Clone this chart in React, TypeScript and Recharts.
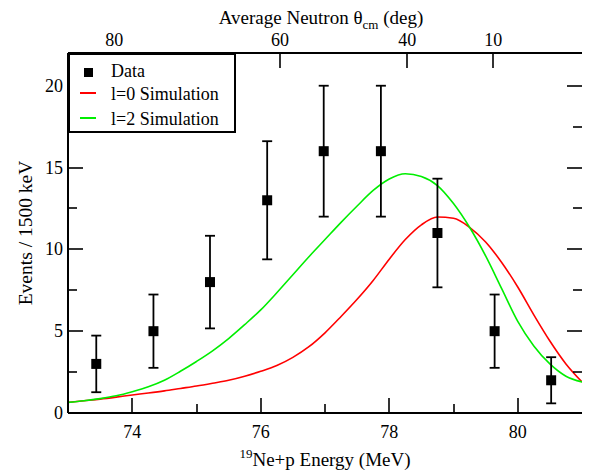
import {
  ComposedChart,
  ErrorBar,
  Legend,
  Line,
  ReferenceDot,
  Scatter,
  XAxis,
  YAxis,
} from "recharts";

// measured points (counts per 1500 keV bin), errors are sqrt(N)
const DATA_X = [73.44, 74.33, 75.21, 76.1, 76.98, 77.87, 78.75, 79.64, 80.52];
const DATA_Y = [3, 5, 8, 13, 16, 16, 11, 5, 2];
const DATA_ERR = [1.73, 2.24, 2.83, 3.61, 4, 4, 3.32, 2.24, 1.41];

// simulation curves
const SIM_X = [
  73, 73.25, 73.5, 73.75, 74, 74.25, 74.5, 74.75, 75, 75.25, 75.5, 75.75, 76,
  76.25, 76.5, 76.75, 77, 77.25, 77.5, 77.75, 78, 78.25, 78.5, 78.75, 79,
  79.25, 79.5, 79.75, 80, 80.25, 80.5, 80.75, 81,
];
const L0_Y = [
  0.65, 0.75, 0.85, 0.97, 1.1, 1.22, 1.35, 1.5, 1.65, 1.82, 2.0, 2.25, 2.55,
  2.9, 3.4, 4.05, 4.9, 5.9, 6.95, 8.1, 9.4, 10.6, 11.5, 11.98, 11.9, 11.35, 10.45,
  9.2, 7.7, 6.0, 4.4, 3.0, 1.9,
];
const L2_Y = [
  0.65, 0.75, 0.88, 1.05, 1.3, 1.6, 2.0, 2.55, 3.15, 3.8, 4.55, 5.4, 6.3, 7.35,
  8.45, 9.55, 10.6, 11.65, 12.65, 13.6, 14.3, 14.62, 14.45, 13.9, 12.8, 11.35, 9.6,
  7.6, 5.6, 4.1, 3.0, 2.25, 1.9,
];

const X_MIN = 73;
const X_MAX = 81;
const Y_MIN = 0;
const Y_MAX = 22;
const X_TICKS = [74, 75, 76, 77, 78, 79, 80];
const X_MAJOR = [74, 76, 78, 80];
const Y_TICKS = [2.5, 5, 7.5, 10, 12.5, 15, 17.5, 20];
const Y_LABELS = [0, 5, 10, 15, 20];
const Y_MAJOR = [0, 5, 10, 15, 20];
const TOP_TICKS = [73.72, 76.3, 78.28, 79.62];
const TOP_LABELS = ["80", "60", "40", "10"];

const FONT = "'Liberation Serif', 'DejaVu Serif', serif";
const RED = "#ff0000";
const GREEN = "#00ee00";

const points = DATA_X.map((x, i) => ({ x, y: DATA_Y[i], err: DATA_ERR[i] }));
const l0 = SIM_X.map((x, i) => ({ x, y: L0_Y[i] }));
const l2 = SIM_X.map((x, i) => ({ x, y: L2_Y[i] }));

const bottomLabel = (props: any) =>
  X_MAJOR.includes(props.payload.value) ? (
    <text x={props.x} y={Number(props.y) + 25} textAnchor="middle" fontSize={18} fontFamily={FONT} fill="#000">
      {props.payload.value}
    </text>
  ) : (
    <g />
  );

const topLabel = (props: any) => (
  <text x={props.x} y={Number(props.y) - 7} textAnchor="middle" fontSize={18} fontFamily={FONT} fill="#000">
    {TOP_LABELS[props.index]}
  </text>
);

const leftLabel = (props: any) => (
  <text x={Number(props.x) - 5} y={Number(props.y) + 6} textAnchor="end" fontSize={18} fontFamily={FONT} fill="#000">
    {props.payload.value}
  </text>
);

// inward tick marks, anchored on the frame by reference dots
const tickMark = (dx: number, dy: number) => (p: any) => {
  const x = Math.round(p.cx);
  const y = Math.round(p.cy);
  return <path d={`M${x},${y}L${x + dx},${y + dy}`} stroke="#000" strokeWidth={1.6} fill="none" />;
};

const LegendBox = () => (
  <div
    style={{
      width: 168,
      height: 80,
      boxSizing: "border-box",
      border: "2px solid #000",
      background: "#fff",
      fontFamily: FONT,
      fontSize: 18,
      position: "relative",
    }}
  >
    <div style={{ position: "absolute", left: 14, top: 13, width: 9, height: 9, background: "#000" }} />
    <div style={{ position: "absolute", left: 10, top: 37, width: 16, height: 1.5, background: RED }} />
    <div style={{ position: "absolute", left: 10, top: 62, width: 16, height: 1.5, background: GREEN }} />
    <div style={{ position: "absolute", left: 41, top: 5, lineHeight: "22px" }}>Data</div>
    <div style={{ position: "absolute", left: 41, top: 28, lineHeight: "22px", whiteSpace: "nowrap" }}>
      l=0 Simulation
    </div>
    <div style={{ position: "absolute", left: 41, top: 53, lineHeight: "22px", whiteSpace: "nowrap" }}>
      l=2 Simulation
    </div>
  </div>
);

export default function App() {
  return (
    <div style={{ position: "absolute", left: 0, top: 0 }}>
      <ComposedChart width={590} height={473} margin={{ top: 0, right: 8, bottom: 0, left: 0 }}>
        <XAxis
          xAxisId="bottom"
          dataKey="x"
          type="number"
          domain={[X_MIN, X_MAX]}
          allowDataOverflow
          ticks={X_TICKS}
          interval={0}
          height={60}
          tickSize={0}
          tickMargin={0}
          tickLine={false}
          tick={bottomLabel}
          axisLine={{ stroke: "#000", strokeWidth: 2 }}
          label={{
            content: (p: any) => {
              const vb = p.viewBox;
              return (
                <text
                  x={vb.x + vb.width / 2}
                  y={vb.y + 53}
                  textAnchor="middle"
                  fontSize={19}
                  fontFamily={FONT}
                  fill="#000"
                >
                  <tspan fontSize={13} dy={-8}>19</tspan>
                  <tspan dy={8}>Ne+p Energy (MeV)</tspan>
                </text>
              );
            },
          }}
        />
        <XAxis
          xAxisId="top"
          dataKey="x"
          orientation="top"
          type="number"
          domain={[X_MIN, X_MAX]}
          allowDataOverflow
          ticks={TOP_TICKS}
          interval={0}
          height={53}
          tickSize={0}
          tickMargin={0}
          tickLine={false}
          tick={topLabel}
          axisLine={{ stroke: "#000", strokeWidth: 2 }}
          label={{
            content: (p: any) => {
              const vb = p.viewBox;
              return (
                <text
                  x={vb.x + vb.width / 2 - 4}
                  y={24}
                  textAnchor="middle"
                  fontSize={19}
                  fontFamily={FONT}
                  fill="#000"
                >
                  Average Neutron θ
                  <tspan fontSize={13} dy={5}>cm</tspan>
                  <tspan dy={-5}> (deg)</tspan>
                </text>
              );
            },
          }}
        />
        <YAxis
          yAxisId="left"
          type="number"
          domain={[Y_MIN, Y_MAX]}
          allowDataOverflow
          ticks={Y_LABELS}
          interval={0}
          width={68}
          tickSize={0}
          tickMargin={0}
          tickLine={false}
          tick={leftLabel}
          axisLine={{ stroke: "#000", strokeWidth: 2 }}
          label={{
            content: (p: any) => {
              const vb = p.viewBox;
              const cx = vb.x + 25;
              const cy = vb.y + vb.height / 2;
              return (
                <text
                  x={cx}
                  y={cy}
                  transform={`rotate(-90 ${cx} ${cy})`}
                  textAnchor="middle"
                  dominantBaseline="central"
                  fontSize={19.5}
                  fontFamily={FONT}
                  fill="#000"
                >
                  Events / 1500 keV
                </text>
              );
            },
          }}
        />
        <YAxis
          yAxisId="right"
          orientation="right"
          type="number"
          domain={[Y_MIN, Y_MAX]}
          allowDataOverflow
          ticks={Y_LABELS}
          width={0}
          tick={false}
          tickLine={false}
          axisLine={{ stroke: "#000", strokeWidth: 2 }}
        />
        {X_TICKS.map((v) => (
          <ReferenceDot
            key={`xb${v}`}
            xAxisId="bottom"
            yAxisId="left"
            x={v}
            y={Y_MIN}
            shape={tickMark(0, X_MAJOR.includes(v) ? -15 : -9)}
          />
        ))}
        {TOP_TICKS.map((v) => (
          <ReferenceDot
            key={`xt${v}`}
            xAxisId="top"
            yAxisId="left"
            x={v}
            y={Y_MAX}
            shape={tickMark(0, 15)}
          />
        ))}
        {Y_TICKS.map((v) => (
          <ReferenceDot
            key={`yl${v}`}
            xAxisId="bottom"
            yAxisId="left"
            x={X_MIN}
            y={v}
            shape={tickMark(Y_MAJOR.includes(v) ? 15 : 9, 0)}
          />
        ))}
        {Y_TICKS.map((v) => (
          <ReferenceDot
            key={`yr${v}`}
            xAxisId="bottom"
            yAxisId="left"
            x={X_MAX}
            y={v}
            shape={tickMark(Y_MAJOR.includes(v) ? -15 : -9, 0)}
          />
        ))}
        {/* the l=0 curve is plotted on the top/right pair (same domains) so those axes render */}
        <Line
          xAxisId="top"
          yAxisId="right"
          data={l0}
          dataKey="y"
          type="monotone"
          stroke={RED}
          strokeWidth={1.6}
          dot={false}
          isAnimationActive={false}
        />
        <Line
          xAxisId="bottom"
          yAxisId="left"
          data={l2}
          dataKey="y"
          type="monotone"
          stroke={GREEN}
          strokeWidth={1.6}
          dot={false}
          isAnimationActive={false}
        />
        <Scatter
          xAxisId="bottom"
          yAxisId="left"
          data={points}
          dataKey="y"
          fill="#000"
          isAnimationActive={false}
          shape={(p: any) => <rect x={p.cx - 5} y={p.cy - 5} width={10} height={10} fill="#000" />}
        >
          <ErrorBar dataKey="err" direction="y" width={5} stroke="#000" strokeWidth={1.8} />
        </Scatter>
        <Legend
          layout="vertical"
          align="center"
          verticalAlign="middle"
          content={() => <LegendBox />}
          wrapperStyle={{ left: 68, top: 53, width: 168, height: 80 }}
        />
      </ComposedChart>
    </div>
  );
}
